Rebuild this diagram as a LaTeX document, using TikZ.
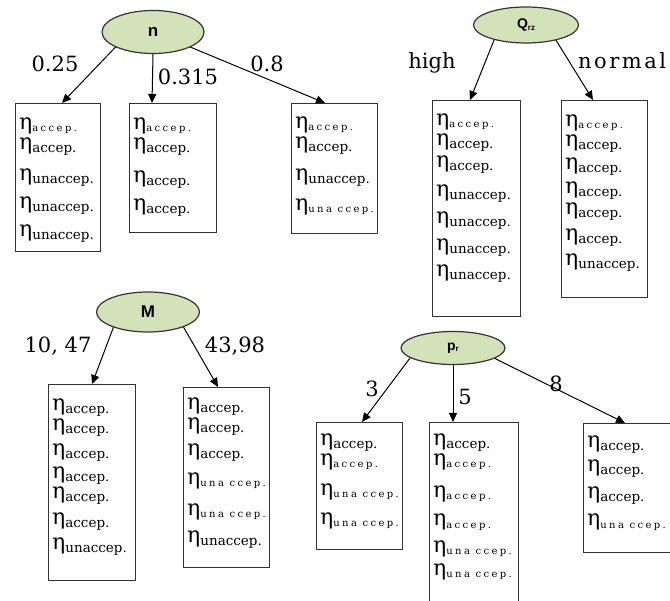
\documentclass[tikz,border=0pt]{standalone}
\usepackage{fontspec}
\setmainfont{DejaVu Serif}
\newfontfamily\labelsans{Liberation Sans}
\usetikzlibrary{shapes.geometric,arrows.meta,calc}

\definecolor{nodegreen}{HTML}{D4E2BA}
\definecolor{edgegray}{HTML}{333333}

% eta with a regular or a small, letter-spaced subscript
\newcommand\subN[1]{\raisebox{-3pt}{\fontsize{13.5}{13.5}\selectfont #1}}
\newcommand\subT[1]{\raisebox{-2pt}{\fontsize{10}{10}\selectfont\addfontfeature{LetterSpace=24}#1}}
\newcommand\en[1]{{\fontsize{22}{22}\selectfont η}\subN{#1}}
\newcommand\et[1]{{\fontsize{22}{22}\selectfont η}\subT{#1}}

\tikzset{
  topic/.style={ellipse, draw=edgegray, fill=nodegreen, line width=1.2pt,
    inner sep=0pt, font=\labelsans\bfseries\fontsize{17}{17}\selectfont},
  leafbox/.style={rectangle, draw=edgegray, line width=1.3pt, inner sep=0pt},
  leafline/.style={anchor=base west, inner sep=0pt},
  lab/.style={anchor=base, inner sep=0pt, font=\fontsize{21}{21}\selectfont},
  link/.style={draw=black, line width=1pt, -{Triangle[length=9pt,width=8pt]}},
}

% name, x, y, width, height, {baseline offset/line, ...}
\newcommand\leaf[6]{%
  \node[leafbox, minimum width=#4pt, minimum height=#5pt, anchor=north west] (#1) at (#2,#3) {};
  \foreach \dy/\txt [count=\li] in {#6}
    \node[leafline] (#1-\li) at ($(#1.north west)+(4,\dy)$) {\txt};
}

\begin{document}
\begin{tikzpicture}[x=1pt,y=-1pt]
\useasboundingbox (0,0) rectangle (670,601);
\clip (0,0) rectangle (670,601);

% ---- tree for n ----
\node[topic, minimum width=102pt, minimum height=43pt] (n) at (153,32) {n};
\leaf{A}{15}{103}{85}{148}{27/\et{accep.}, 47/\en{accep.}, 78/\en{unaccep.}, 106/\en{unaccep.}, 134/\en{unaccep.}}
\leaf{B}{129}{103}{87}{129}{27/\et{accep.}, 47/\en{accep.}, 80/\en{accep.}, 108/\en{accep.}}
\leaf{C}{291}{103}{86}{130}{26/\et{accep.}, 46/\en{accep.}, 78/\en{unaccep.}, 108/\et{una ccep.}}
\draw[link] (n.202) -- ($(A.north west)+(47,0)$);
\draw[link] (n.south) -- ($(B.north west)+(23,0)$);
\draw[link] (n.338) -- ($(C.north west)+(34,0)$);
\node[lab] (ln1) at (55,72) {0.25};
\node[lab] (ln2) at (188,85) {0.315};
\node[lab] (ln3) at (267,72) {0.8};

% ---- tree for Q_rz ----
\node[topic, minimum width=105pt, minimum height=36pt, font=\labelsans\bfseries\fontsize{14}{14}\selectfont] (q) at (526,25) {Q\raisebox{-2pt}{\fontsize{8}{8}\selectfont rz}};
\leaf{D}{432}{100}{88}{216}{26/\et{accep.}, 46/\en{accep.}, 68/\en{accep.}, 97/\en{unaccep.}, 124/\en{unaccep.}, 151/\en{unaccep.}, 177/\en{unaccep.}}
\leaf{E}{561}{100}{86}{197}{27/\et{accep.}, 47/\en{accep.}, 70/\en{accep.}, 94/\en{accep.}, 115/\en{accep.}, 141/\en{accep.}, 166/\en{unaccep.}}
\draw[link] (q.205) -- ($(D.north west)+(38,0)$);
\draw[link] (q.333) -- ($(E.north west)+(32,0)$);
\node[lab] (lq1) at (432,69) {high};
\node[lab, anchor=base west, font=\fontsize{21}{21}\selectfont\addfontfeature{LetterSpace=12}] (lq2) at (578,69) {normal};

% ---- tree for M ----
\node[topic, minimum width=103pt, minimum height=40pt] (m) at (148,312) {M};
\leaf{F}{48}{384}{87}{196}{27/\en{accep.}, 47/\en{accep.}, 72/\en{accep.}, 95/\en{accep.}, 115/\en{accep.}, 141/\en{accep.}, 166/\en{unaccep.}}
\leaf{G}{183}{387}{86}{180}{23/\en{accep.}, 43/\en{accep.}, 69/\en{accep.}, 98/\et{una ccep.}, 129/\et{una ccep.}, 156/\en{unaccep.}}
\draw[link] (m.204) -- ($(F.north west)+(44,0)$);
\draw[link] (m.337) -- ($(G.north west)+(35,0)$);
\node[lab] (lm1) at (58,353) {10, 47};
\node[lab] (lm2) at (235,353) {43,98};

% ---- tree for p_r ----
\node[topic, minimum width=104pt, minimum height=33pt, font=\labelsans\bfseries\fontsize{14}{14}\selectfont] (p) at (453,348) {p\raisebox{-1pt}{\fontsize{8}{8}\selectfont r}};
\leaf{H}{316}{422}{86}{127}{24/\en{accep.}, 44/\et{accep.}, 74/\et{una ccep.}, 103/\et{una ccep.}}
\leaf{I}{429}{422}{89}{200}{24/\en{accep.}, 44/\et{accep.}, 76/\et{accep.}, 104/\et{accep.}, 131/\et{una ccep.}, 154/\et{una ccep.}}
\leaf{J}{583}{423}{100}{129}{25/\en{accep.}, 49/\en{accep.}, 76/\en{accep.}, 103/\et{una ccep.}}
\draw[link] (p.193) -- ($(H.north west)+(46,0)$);
\draw[link] (p.south) -- ($(I.north west)+(24,0)$);
\draw[link] (p.346) -- ($(J.north west)+(42,0)$);
\node[lab] (lp1) at (372,397) {3};
\node[lab] (lp2) at (465,405) {5};
\node[lab] (lp3) at (556,392) {8};
\end{tikzpicture}
\end{document}
